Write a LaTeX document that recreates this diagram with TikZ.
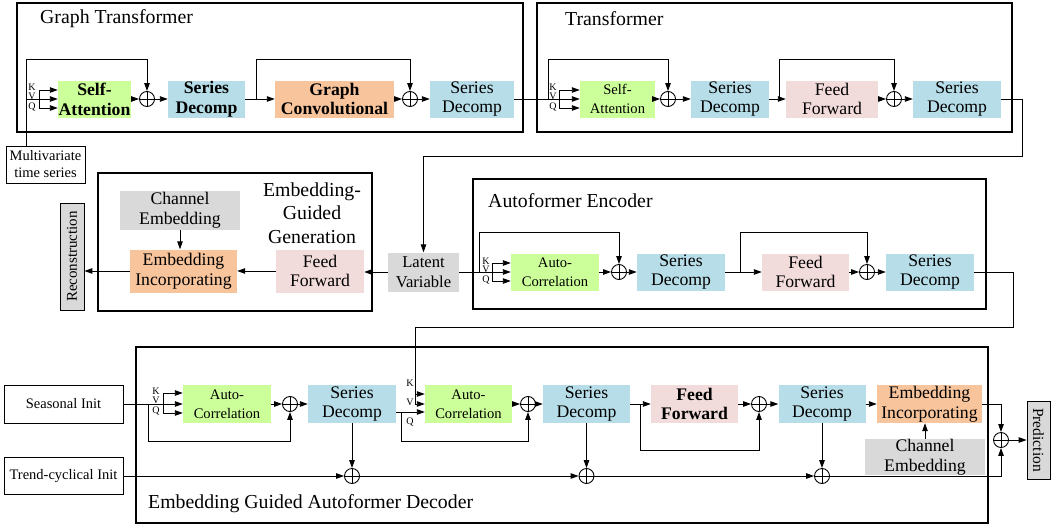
\documentclass[tikz,border=0pt]{standalone}
\usepackage{fontspec}
\setmainfont{Liberation Serif}
\usetikzlibrary{arrows.meta,calc}
\definecolor{cgreen}{HTML}{CCFF99}
\definecolor{cblue}{HTML}{B7DDE8}
\definecolor{corange}{HTML}{F8C49C}
\definecolor{cpink}{HTML}{F2DCDB}
\definecolor{cgray}{HTML}{D9D9D9}
\newcommand{\fz}[2]{\fontsize{#1}{#2}\selectfont}
\tikzset{
 outerbox/.style={draw, line width=1.8pt, inner sep=0pt},
 blk/.style={inner sep=0pt, align=center, minimum height=37pt, font=\fz{17.7pt}{19.8pt}},
 gblk/.style={blk, fill=cgreen},
 bblk/.style={blk, fill=cblue},
 oblk/.style={blk, fill=corange},
 pblk/.style={blk, fill=cpink},
 yblk/.style={blk, fill=cgray},
 iobox/.style={draw, line width=0.8pt, inner sep=0pt, align=center, font=\fz{14.5pt}{17pt}},
 ttl/.style={anchor=west, inner sep=0pt, font=\fz{19.8pt}{23.5pt}},
 lbl/.style={inner sep=0pt, font=\fz{10pt}{10pt}},
 con/.style={line width=0.9pt},
 arr/.style={con, -{Triangle[length=8pt,width=5.5pt]}},
 plus/.style={circle, draw, line width=0.9pt, minimum size=15pt, inner sep=0pt,
   path picture={\draw[line width=0.9pt] (path picture bounding box.north) -- (path picture bounding box.south) (path picture bounding box.west) -- (path picture bounding box.east);}},
}
\begin{document}
\begin{tikzpicture}[x=1pt,y=-1pt]
\useasboundingbox (0,0) rectangle (1051,527);

% ---------------- Graph Transformer ----------------
\node[outerbox, minimum width=506pt, minimum height=129pt] (gt) at (270,67.5) {};
\node[ttl] (gtT) at (40,19) {Graph Transformer};
\node[gblk, minimum width=73pt, font=\fz{17.7pt}{19.8pt}\bfseries] (sa1) at (94.5,99) {Self-\\Attention};
\node[plus] (p1) at (147,99) {};
\node[bblk, minimum width=77pt, font=\fz{17.7pt}{19.8pt}\bfseries] (sd1) at (206.5,99) {Series\\Decomp};
\node[oblk, minimum width=119pt, font=\fz{17.7pt}{19.8pt}\bfseries] (gc) at (334.5,99) {Graph\\Convolutional};
\node[plus] (p2) at (410,99) {};
\node[bblk, minimum width=84pt] (sd2) at (472,99) {Series\\Decomp};

\node[iobox, minimum width=79pt, minimum height=37pt] (mts) at (45.5,164.5) {Multivariate\\time series};

\coordinate (gsk) at (26,59);
\coordinate (gbr) at (39,99);
\coordinate (gk) at (39,90);
\coordinate (gq) at (39,108);
\draw[arr] (gsk |- mts.north) -- (gsk) -| (p1);
\draw[con] (gsk |- p1) -- (gbr);
\draw[con] (gk) -- (gq);
\draw[arr] (gk) -- (gk -| sa1.west);
\draw[arr] (gbr) -- (sa1.west);
\draw[arr] (gq) -- (gq -| sa1.west);
\node[lbl] (gkl) at (32,87) {K};
\node[lbl] (gvl) at (32,96) {V};
\node[lbl] (gql) at (32,107) {Q};
\draw[arr] (sa1) -- (p1);
\draw[arr] (p1) -- (sd1);
\draw[arr] (sd1) -- (gc);
\coordinate (gsk2) at (256,59);
\draw[arr] (gsk2 |- sd1) -- (gsk2) -| (p2);
\draw[arr] (gc) -- (p2);
\draw[arr] (p2) -- (sd2);

% ---------------- Transformer ----------------
\node[outerbox, minimum width=475pt, minimum height=129pt] (tr) at (774.5,67.5) {};
\node[ttl] (trT) at (565,19) {Transformer};
\node[gblk, minimum width=75pt, font=\fz{14.6pt}{18.5pt}] (sa2) at (617.5,99) {Self-\\Attention};
\node[plus] (p3) at (668,99) {};
\node[bblk, minimum width=78pt] (sd3) at (730,99) {Series\\Decomp};
\node[pblk, minimum width=92pt] (ff1) at (832,99) {Feed\\Forward};
\node[plus] (p4) at (894,99) {};
\node[bblk, minimum width=88pt] (sd4) at (957,99) {Series\\Decomp};

\coordinate (tsk) at (548,59);
\coordinate (tbr) at (559,99);
\coordinate (tk) at (559,90);
\coordinate (tq) at (559,108);
\draw[con] (sd2) -- (tbr);
\draw[arr] (tsk |- sd2) -- (tsk) -| (p3);
\draw[con] (tk) -- (tq);
\draw[arr] (tk) -- (tk -| sa2.west);
\draw[arr] (tbr) -- (sa2.west);
\draw[arr] (tq) -- (tq -| sa2.west);
\node[lbl] (tkl) at (553,87) {K};
\node[lbl] (tvl) at (553,96) {V};
\node[lbl] (tql) at (553,107) {Q};
\draw[arr] (sa2) -- (p3);
\draw[arr] (p3) -- (sd3);
\draw[arr] (sd3) -- (ff1);
\coordinate (tsk2) at (779,59);
\draw[arr] (tsk2 |- sd3) -- (tsk2) -| (p4);
\draw[arr] (ff1) -- (p4);
\draw[arr] (p4) -- (sd4);

% ---------------- Latent + Embedding-Guided Generation ----------------
\node[yblk, minimum width=71pt, minimum height=39pt, font=\fz{16.6pt}{20pt}] (lv) at (423.5,272) {Latent\\Variable};
\coordinate (o1) at (1022,156);
\draw[arr] (sd4) -| (o1) -| (lv);

\node[outerbox, minimum width=274pt, minimum height=138pt] (egg) at (235,242) {};
\node[inner sep=0pt, align=center, font=\fz{19.8pt}{23.5pt}] (eggT) at (312,213) {Embedding-\\Guided\\Generation};
\node[yblk, minimum width=120pt, minimum height=39pt] (ce1) at (180,210.5) {Channel\\Embedding};
\node[oblk, minimum width=107pt, minimum height=43pt] (ei1) at (183.5,271) {Embedding\\Incorporating};
\node[pblk, minimum width=88pt, minimum height=43pt] (ff3) at (320,271) {Feed\\Forward};
\node[draw, fill=cgray, line width=0.8pt, rotate=90, minimum width=107pt, minimum height=24pt, inner sep=0pt, font=\fz{15pt}{16pt}] (rec) at (72,256.5) {Reconstruction};
\draw[arr] (ce1) -- (ce1 |- ei1.north);
\draw[arr] (lv.west) -- (lv.west -| ff3.east);
\draw[arr] (ff3) -- (ei1);
\draw[arr] (ei1) -- (ei1.west -| rec.south);

% ---------------- Autoformer Encoder ----------------
\node[outerbox, minimum width=513pt, minimum height=130pt] (enc) at (729.5,244) {};
\node[ttl] (encT) at (488,201) {Autoformer Encoder};
\node[gblk, minimum width=88pt, font=\fz{14.6pt}{18.5pt}] (ac1) at (555,272) {Auto-\\Correlation};
\node[plus] (p5) at (619,272) {};
\node[bblk, minimum width=88pt] (sd5) at (681,272) {Series\\Decomp};
\node[pblk, minimum width=87pt] (ff2) at (805.5,272) {Feed\\Forward};
\node[plus] (p6) at (867,272) {};
\node[bblk, minimum width=88pt] (sd6) at (930,272) {Series\\Decomp};

\coordinate (esk) at (479,232);
\coordinate (ebr) at (492,272);
\coordinate (ek) at (492,263);
\coordinate (eq) at (492,281);
\draw[con] (lv) -- (ebr);
\draw[arr] (esk |- lv) -- (esk) -| (p5);
\draw[con] (ek) -- (eq);
\draw[arr] (ek) -- (ek -| ac1.west);
\draw[arr] (ebr) -- (ac1.west);
\draw[arr] (eq) -- (eq -| ac1.west);
\node[lbl] (ekl) at (486,261) {K};
\node[lbl] (evl) at (486,269) {V};
\node[lbl] (eql) at (486,280) {Q};
\draw[arr] (ac1) -- (p5);
\draw[arr] (p5) -- (sd5);
\draw[arr] (sd5) -- (ff2);
\coordinate (esk2) at (740,232);
\draw[arr] (esk2 |- sd5) -- (esk2) -| (p6);
\draw[arr] (ff2) -- (p6);
\draw[arr] (p6) -- (sd6);

% ---------------- Decoder ----------------
\node[outerbox, minimum width=852pt, minimum height=176pt] (dec) at (562,435) {};
\node[ttl] (decT) at (148,504) {Embedding Guided Autoformer Decoder};
\node[iobox, minimum width=119pt, minimum height=38pt] (si) at (63.5,404) {Seasonal Init};
\node[iobox, minimum width=119pt, minimum height=37pt] (ti) at (63.5,476) {Trend-cyclical Init};
\node[gblk, minimum width=88pt, minimum height=38pt, font=\fz{14.6pt}{18.5pt}] (ac2) at (227,404) {Auto-\\Correlation};
\node[plus] (p7) at (290,404) {};
\node[bblk, minimum width=88pt, minimum height=38pt] (sd7) at (352,404) {Series\\Decomp};
\node[plus] (p8) at (352,476) {};
\node[gblk, minimum width=87pt, minimum height=38pt, font=\fz{14.6pt}{18.5pt}] (ac3) at (468.5,404) {Auto-\\Correlation};
\node[plus] (p9) at (528,404) {};
\node[bblk, minimum width=87pt, minimum height=38pt] (sd8) at (586.5,404) {Series\\Decomp};
\node[plus] (p10) at (586.5,476) {};
\node[pblk, minimum width=87pt, minimum height=38pt, font=\fz{17.7pt}{19.8pt}\bfseries] (ff4) at (694.5,404) {Feed\\Forward};
\node[plus] (p11) at (759,404) {};
\node[bblk, minimum width=87pt, minimum height=38pt] (sd9) at (822,404) {Series\\Decomp};
\node[plus] (p12) at (822,476) {};
\node[oblk, minimum width=105pt, minimum height=38pt] (ei2) at (929.5,404) {Embedding\\Incorporating};
\node[yblk, minimum width=120pt, minimum height=36pt] (ce2) at (925,457) {Channel\\Embedding};
\node[plus] (p13) at (1001,440) {};
\node[draw, fill=cgray, line width=0.8pt, rotate=-90, minimum width=78pt, minimum height=23pt, inner sep=0pt, font=\fz{15.5pt}{16pt}] (pred) at (1038.5,440) {Prediction};

% seasonal input
\coordinate (dbr) at (163,404);
\coordinate (dk) at (163,393);
\coordinate (dq1) at (163,413);
\coordinate (dsk) at (148,441);
\draw[con] (si) -- (dbr);
\draw[con] (dk) -- (dq1);
\draw[arr] (dk) -- (dk -| ac2.west);
\draw[arr] (dbr) -- (ac2.west);
\draw[arr] (dq1) -- (dq1 -| ac2.west);
\node[lbl] (dkl) at (156,391) {K};
\node[lbl] (dvl) at (156,400) {V};
\node[lbl] (dql) at (156,411) {Q};
\draw[arr] (dsk |- si) -- (dsk) -| (p7);
\draw[arr] (ac2) -- (p7);
\draw[arr] (p7) -- (sd7);
\draw[arr] (sd7) -- (p8);
\draw[arr] (ti) -- (p8);

% encoder output into decoder
\coordinate (o2) at (1013,327);
\coordinate (eK) at (415,394);
\coordinate (eV) at (415,404);
\draw[con] (sd6) -| (o2) -| (eV);
\draw[arr] (eK) -- (eK -| ac3.west);
\draw[arr] (eV) -- (eV -| ac3.west);
\coordinate (dq) at (401,412);
\coordinate (dsk2) at (401,441);
\draw[con] (sd7.east |- dq) -- (dq);
\draw[arr] (dq) -- (dq -| ac3.west);
\draw[arr] (dq) -- (dsk2) -| (p9);
\node[lbl] (akl) at (410,383) {K};
\node[lbl] (avl) at (410,402) {V};
\node[lbl] (aql) at (410,422) {Q};
\draw[arr] (ac3) -- (p9);
\draw[arr] (p9) -- (sd8);
\draw[arr] (sd8) -- (p10);
\draw[arr] (sd8) -- (ff4);
\coordinate (dsk3) at (640,450);
\draw[arr] (dsk3 |- sd8) -- (dsk3) -| (p11);
\draw[arr] (ff4) -- (p11);
\draw[arr] (p11) -- (sd9);
\draw[arr] (sd9) -- (p12);
\draw[arr] (sd9) -- (ei2);
\draw[arr] (ce2) -- (ce2 |- ei2.south);
\draw[arr] (p8) -- (p10);
\draw[arr] (p10) -- (p12);
\draw[arr] (p12) -| (p13);
\draw[arr] (ei2) -| (p13);
\draw[arr] (p13) -- (p13 -| pred.south);
\end{tikzpicture}
\end{document}
